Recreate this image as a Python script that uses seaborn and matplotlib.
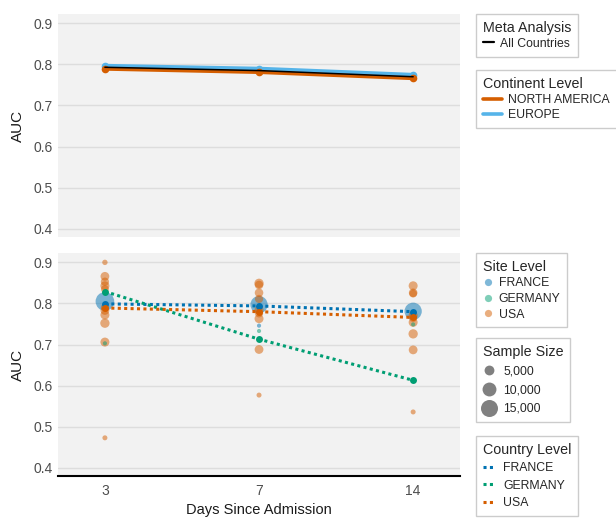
import numpy as np
import pandas as pd
import matplotlib
matplotlib.use("Agg")
import matplotlib.pyplot as plt
from matplotlib.lines import Line2D
import seaborn as sns

days = ["3", "7", "14"]

# top panel: meta analysis + continent level
meta_all = [0.793, 0.785, 0.770]
europe = [0.797, 0.790, 0.775]
north_america = [0.789, 0.781, 0.766]

# bottom panel: country level
country_france = [0.799, 0.794, 0.780]
country_germany = [0.829, 0.713, 0.613]
country_usa = [0.789, 0.780, 0.766]

# bottom panel: site level (day, auc, sample size)
france_day = ["3", "7", "7", "14"]
france_auc = [0.805, 0.797, 0.746, 0.781]
france_n = [18000, 15500, 900, 15500]

germany_day = ["3", "7", "14"]
germany_auc = [0.703, 0.733, 0.749]
germany_n = [900, 900, 900]

usa_day = ["3"] * 11 + ["7"] * 9 + ["14"] * 9
usa_auc = [0.900, 0.866, 0.853, 0.843, 0.835, 0.790, 0.783, 0.772, 0.752, 0.706, 0.473,
           0.849, 0.845, 0.826, 0.811, 0.784, 0.776, 0.763, 0.688, 0.577,
           0.843, 0.826, 0.824, 0.771, 0.765, 0.754, 0.726, 0.687, 0.536]
usa_n = [1500, 4000, 3500, 4200, 3200, 3500, 4000, 4200, 4500, 4200, 1300,
         4500, 3800, 3800, 3500, 4200, 3500, 4200, 4000, 1300,
         4200, 3800, 3200, 4200, 3500, 4200, 4500, 4000, 1300]

legend_sizes = [5000, 10000, 15000]

country_colors = {"FRANCE": "#0072B2", "GERMANY": "#009E73", "USA": "#D55E00"}
continent_colors = {"NORTH AMERICA": "#D55E00", "EUROPE": "#56B4E9"}

pos_of = {d: i for i, d in enumerate(days)}

top_df = pd.DataFrame({
    "day": days * 3,
    "auc": europe + north_america + meta_all,
    "group": ["EUROPE"] * 3 + ["NORTH AMERICA"] * 3 + ["All Countries"] * 3,
})
top_df["pos"] = top_df["day"].map(pos_of)

country_df = pd.DataFrame({
    "day": days * 3,
    "auc": country_france + country_germany + country_usa,
    "country": ["FRANCE"] * 3 + ["GERMANY"] * 3 + ["USA"] * 3,
})
country_df["pos"] = country_df["day"].map(pos_of)

site_df = pd.DataFrame({
    "day": france_day + germany_day + usa_day,
    "auc": france_auc + germany_auc + usa_auc,
    "n": france_n + germany_n + usa_n,
    "country": ["FRANCE"] * len(france_day) + ["GERMANY"] * len(germany_day) + ["USA"] * len(usa_day),
})
site_df["pos"] = site_df["day"].map(pos_of)
site_df = site_df.sort_values("n", ascending=False)

sns.set_style("darkgrid", {"axes.facecolor": "#f2f2f2", "grid.color": "#dddddd"})
plt.rcParams["font.family"] = ["Liberation Sans", "DejaVu Sans"]

# marker area proportional to sample size
SIZE_MAX = 200
SIZE_NORM = (0, 20000)

fig = plt.figure(figsize=(6.16, 5.18), dpi=100)
ax1 = fig.add_axes([0.094, 0.5425, 0.653, 0.4305])
ax2 = fig.add_axes([0.094, 0.081, 0.653, 0.4305])

# top panel
sns.lineplot(data=top_df[top_df.group == "EUROPE"], x="pos", y="auc", color=continent_colors["EUROPE"],
             linewidth=2.6, marker="o", markersize=5.5, markeredgewidth=0, errorbar=None, ax=ax1)
sns.lineplot(data=top_df[top_df.group == "NORTH AMERICA"], x="pos", y="auc", color=continent_colors["NORTH AMERICA"],
             linewidth=2.6, marker="o", markersize=5.5, markeredgewidth=0, errorbar=None, ax=ax1)
sns.lineplot(data=top_df[top_df.group == "All Countries"], x="pos", y="auc", color="black",
             linewidth=1.1, errorbar=None, ax=ax1)

# bottom panel
sns.scatterplot(data=site_df, x="pos", y="auc", hue="country", palette=country_colors,
                size="n", sizes=(0, SIZE_MAX), size_norm=SIZE_NORM, alpha=0.5,
                linewidth=0, legend=False, ax=ax2)
sns.lineplot(data=country_df, x="pos", y="auc", hue="country", palette=country_colors,
             linewidth=2.2, linestyle=(0, (1, 1.1)), marker="o", markersize=5, markeredgewidth=0,
             errorbar=None, legend=False, ax=ax2)

for ax in (ax1, ax2):
    ax.set_xlim(-0.305, 2.305)
    ax.set_ylim(0.38, 0.9227)
    ax.set_yticks([0.4, 0.5, 0.6, 0.7, 0.8, 0.9])
    ax.set_xticks(range(len(days)))
    ax.grid(axis="x", visible=False)
    ax.grid(axis="y", color="#dddddd", linewidth=1)
    for s in ax.spines.values():
        s.set_visible(False)
    ax.tick_params(length=0, labelsize=10, labelcolor="#4d4d4d", pad=4)
    ax.set_ylabel("AUC", fontsize=11, color="#1a1a1a", labelpad=6)

ax1.set_xticklabels([])
ax1.set_xlabel("")
ax2.set_xticklabels(days)
ax2.tick_params(axis="x", pad=6)
ax2.set_xlabel("Days Since Admission", fontsize=10.5, color="#1a1a1a", labelpad=3)
ax2.spines["bottom"].set_visible(True)
ax2.spines["bottom"].set_color("black")
ax2.spines["bottom"].set_linewidth(1.5)

# legends
x_leg = 476 / 616


def add_legend(handles, labels, title, ytop, hl, spacing=0.25, textpad=0.5):
    leg = fig.legend(handles, labels, title=title, loc="upper left",
                     bbox_to_anchor=(x_leg, 1 - ytop / 518), bbox_transform=fig.transFigure,
                     frameon=True, fancybox=False, edgecolor="#cccccc", facecolor="white", framealpha=1,
                     fontsize=8.8, title_fontsize=10.3, borderaxespad=0, alignment="left",
                     handlelength=hl, handletextpad=textpad, labelspacing=spacing, borderpad=0.55)
    leg.get_frame().set_linewidth(1)
    return leg


add_legend([Line2D([], [], color="black", lw=1.6)], ["All Countries"], "Meta Analysis", 14, 0.9)
add_legend([Line2D([], [], color=continent_colors[k], lw=2.6) for k in continent_colors],
           list(continent_colors), "Continent Level", 70, 1.6)
add_legend([Line2D([], [], ls="", marker="o", markersize=5.2, markeredgewidth=0,
                   color=country_colors[k], alpha=0.5) for k in country_colors],
           list(country_colors), "Site Level", 253, 0.8, spacing=0.3)
add_legend([Line2D([], [], ls="", marker="o", markeredgewidth=0, color="#808080",
                   markersize=np.sqrt(n / SIZE_NORM[1] * SIZE_MAX)) for n in legend_sizes],
           [f"{n:,}" for n in legend_sizes], "Sample Size", 338, 1.0, spacing=0.55, textpad=0.7)
add_legend([Line2D([], [], color=country_colors[k], lw=2.2, ls=(0, (1, 1.1))) for k in country_colors],
           list(country_colors), "Country Level", 436, 0.9, spacing=0.45, textpad=0.8)

fig.savefig("out.png", dpi=100)
